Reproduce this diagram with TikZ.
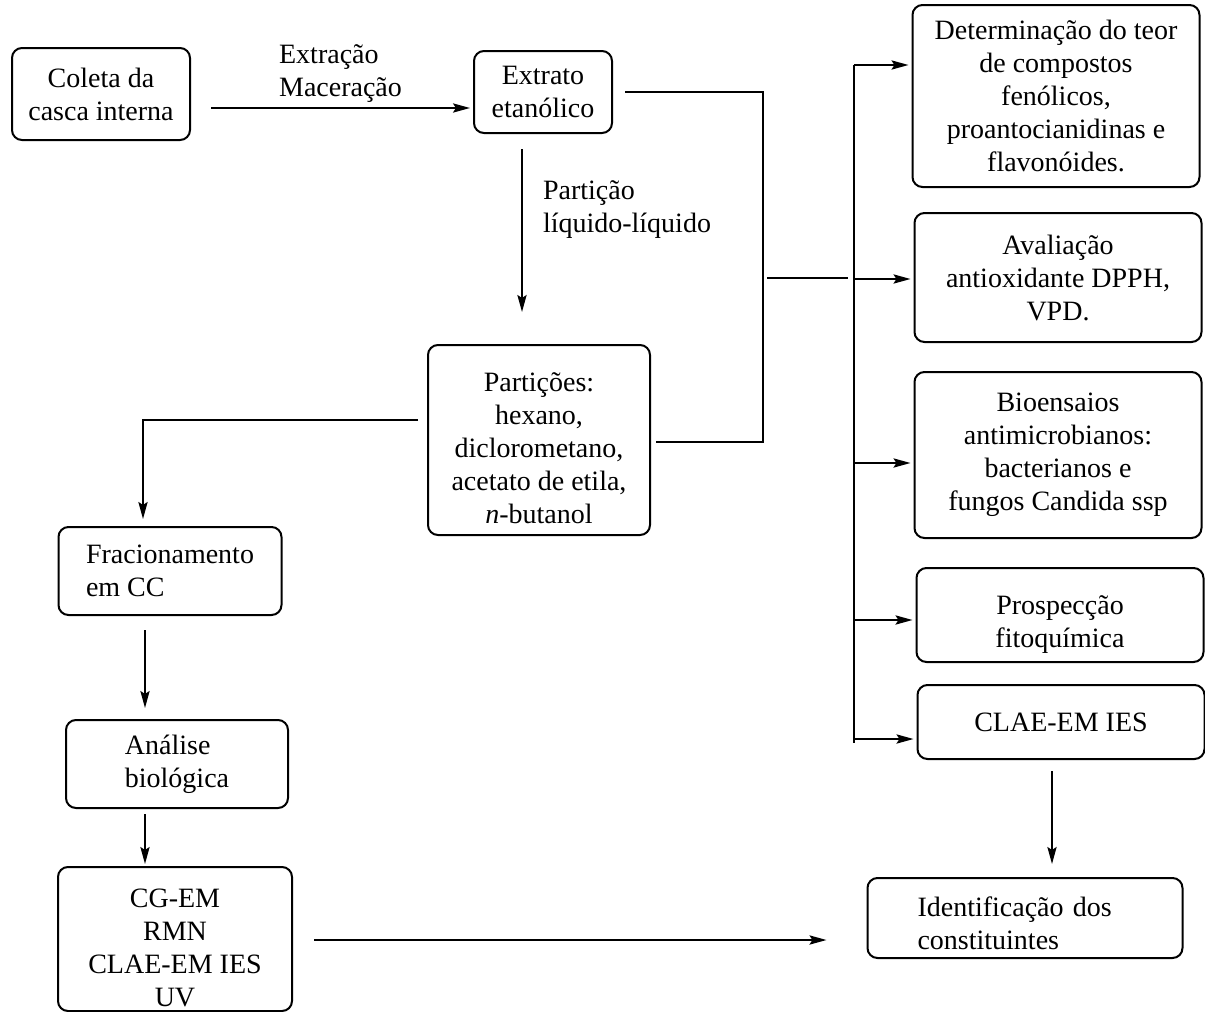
\documentclass[tikz,border=0pt]{standalone}
\usepackage{fontspec}
\setmainfont{Liberation Serif}
\usetikzlibrary{positioning, calc, arrows.meta}

\begin{document}
\begin{tikzpicture}[
  x=0.5pt, y=-0.5pt,
  >={Stealth[length=8.5pt, width=4.6pt, inset=1.5pt]}, line width=1pt,
  box/.style = {draw, rounded corners=5pt, align=center, inner sep=2pt,
                font=\fontsize{14}{16.5}\selectfont},
  lbl/.style = {align=left, inner sep=0pt, font=\fontsize{14}{16.5}\selectfont},
]
  \useasboundingbox (0,0) rectangle (1205,1012);

  \node[box, minimum width=89pt,    minimum height=46pt]   (coleta)  at (101,94)    {Coleta da\\casca interna};
  \node[box, minimum width=69pt,    minimum height=41pt]   (extrato) at (543,92)    {Extrato\\etanólico};
  \node[box, minimum width=111pt,   minimum height=95pt]   (partic)  at (539,440)   {\rule{0pt}{17.5pt}Partições:\\hexano,\\diclorometano,\\acetato de etila,\\\textit{n}-butanol};
  \node[box, minimum width=111.5pt, minimum height=44pt, align=left] (frac)    at (170,571) {Fracionamento\\em CC};
  \node[box, minimum width=111pt,   minimum height=44pt, align=left] (analise) at (177,764) {Análise\\biológica};
  \node[box, minimum width=117pt,   minimum height=72pt]   (cgem)    at (175,939)   {\rule{0pt}{18pt}CG-EM\\RMN\\CLAE-EM IES\\UV};

  \node[box, minimum width=143.5pt, minimum height=91pt]   (det)     at (1056,96)   {Determinação do teor\\de compostos\\fenólicos,\\proantocianidinas e\\flavonóides.};
  \node[box, minimum width=143.5pt, minimum height=64.5pt] (aval)    at (1058,277.5) {Avaliação\\antioxidante DPPH,\\VPD.};
  \node[box, minimum width=143.5pt, minimum height=83pt]   (bio)     at (1058,455)  {Bioensaios\\antimicrobianos:\\bacterianos e\\fungos Candida ssp};
  \node[box, minimum width=143.5pt, minimum height=47pt]   (prosp)   at (1060,615)  {\rule{0pt}{19pt}Prospecção\\fitoquímica};
  \node[box, minimum width=143.5pt, minimum height=37pt]   (clae)    at (1061,722)  {CLAE-EM IES};
  \node[box, text width=107.5pt, inner xsep=25pt, minimum height=40pt, align=left] (ident) at (1025,918) {\rule{0pt}{15pt}Identificação dos\\constituintes};

  \draw[->] ($(coleta.east)+(20,14)$) -- node[lbl, above=2.5pt]{Extração\\Maceração} ($(extrato.west)+(-3,16)$);
  \draw[->] ($(extrato.south)+(-21,15)$) -- node[lbl, pos=0.37, right=10pt]{Partição\\líquido-líquido} ($(partic.north)+(-17,-32)$);
  \draw ($(extrato.east)+(12,0)$) -| ($(partic.east)+(112,2)$) -- ($(partic.east)+(5,2)$);

  \coordinate (bus) at (854,65);
  \draw ($(bus |- aval.west)+(-87,0)$) -- ($(bus |- aval.west)+(-6,0)$);
  \draw (bus) -- ($(bus)+(0,678)$);
  \foreach \b/\dy in {det/-31, aval/1.5, bio/8, prosp/5, clae/17}{
    \coordinate (t\b) at ($(\b.west)+(-3,\dy)$);
    \draw[->] (bus |- t\b) -- (t\b);
  }

  \draw[->] ($(partic.west)+(-9,-20)$) -| ($(frac.north)+(-27,-7)$);
  \draw[->] ($(frac.south)+(-25,14)$) -- ($(analise.north)+(-32,-11)$);
  \draw[->] ($(analise.south)+(-32,5)$) -- ($(cgem.north)+(-30,-2)$);
  \draw[->] ($(cgem.east)+(21,1)$) -- ($(ident.west)+(-40,22)$);
  \draw[->] ($(clae.south)+(-9,11)$) -- ($(ident.north)+(27,-13)$);
\end{tikzpicture}
\end{document}
